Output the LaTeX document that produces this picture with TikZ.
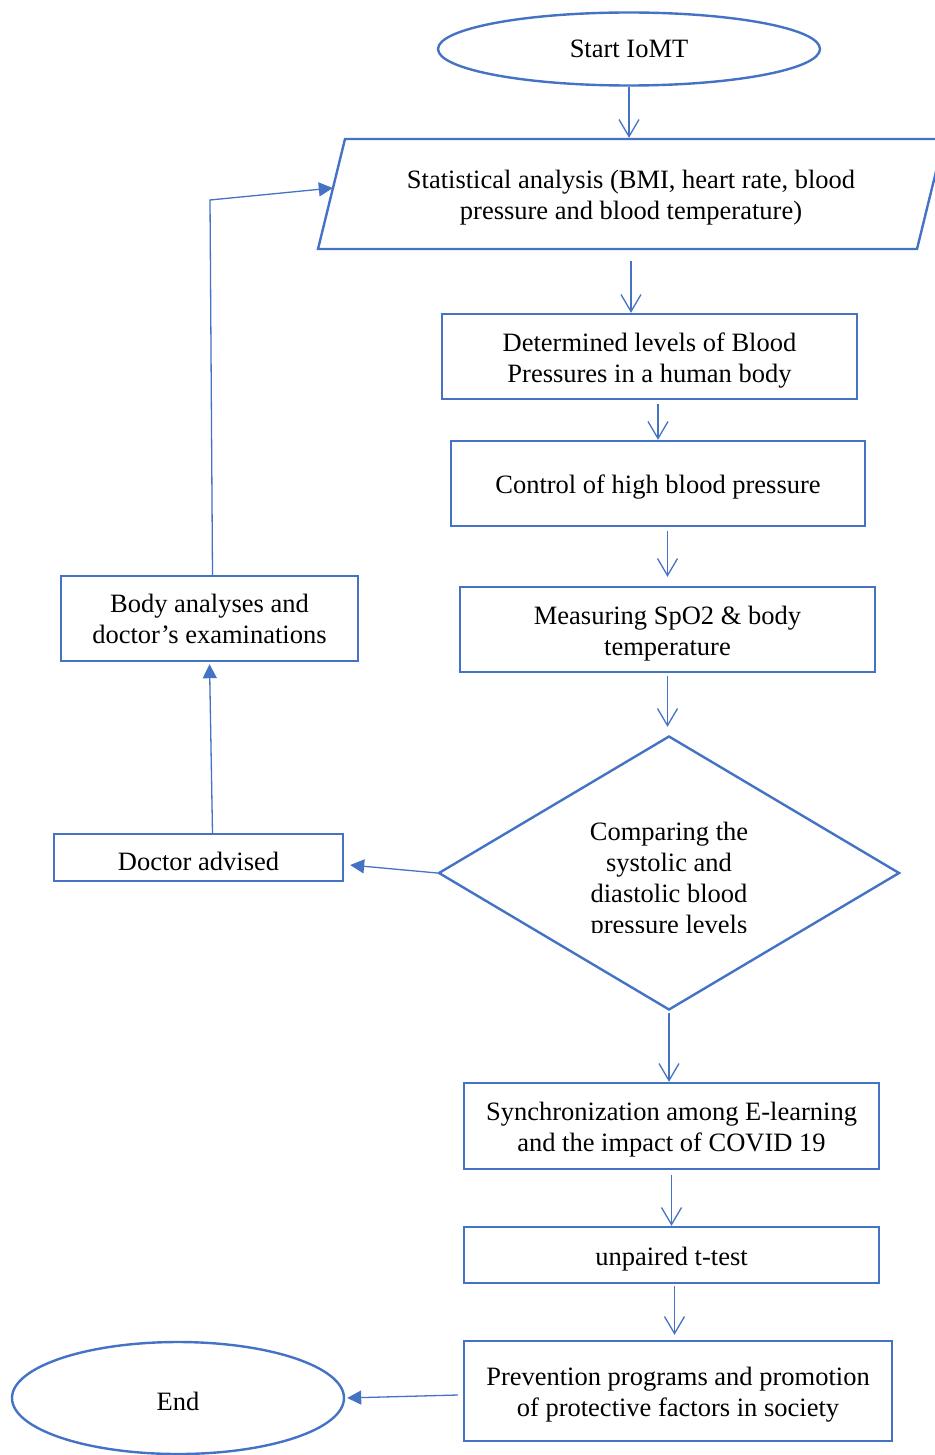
\documentclass[tikz,border=0pt]{standalone}
\usepackage{fontspec}
\setmainfont{Liberation Serif}
\usetikzlibrary{arrows.meta, shapes.geometric, calc}
\definecolor{wordblue}{RGB}{68,114,196}
\newcommand{\lowstrut}{\rule{0pt}{26pt}}

\tikzset{
  box/.style={draw=wordblue, line width=2.4pt, align=center, inner sep=0pt,
    minimum width=415pt, minimum height=85pt},
  vdown/.style={color=wordblue, line width=1.3pt,
    -{Straight Barb[length=17pt,width=20pt,line width=1.3pt]}},
  tri/.style={color=wordblue, line width=1.3pt, -{Triangle[length=14pt,width=14pt]}}
}

\begin{document}
\begin{tikzpicture}[x=1pt, y=-1pt, font=\fontsize{26.5}{31}\selectfont]
	\useasboundingbox (0,0) rectangle (934,1455);
	%
	\node[box, ellipse, minimum width=382pt, minimum height=73pt] (start) at (629,49) {Start IoMT};%
	\node[align=center, inner sep=0pt, minimum width=600pt, minimum height=110pt] (stat) at (631,194)
		{\lowstrut Statistical analysis (BMI, heart rate, blood\\pressure and blood temperature)};%
	\draw[wordblue, line width=2.4pt] ($(stat.center)+(-313,55)$) -- ($(stat.center)+(-286,-55)$)
		-- ($(stat.center)+(313,-55)$) -- ($(stat.center)+(286,55)$) -- cycle;%
	\node[box] (lev) at (649.5,356.5) {\lowstrut Determined levels of Blood\\Pressures in a human body};%
	\node[box, minimum width=414pt] (ctrl) at (658,483.5) {\lowstrut Control of high blood pressure};%
	\node[box] (meas) at (667.5,629.5) {\lowstrut Measuring SpO2 \& body\\temperature};%
	\node[box, diamond, minimum width=461pt, minimum height=274pt] (cmp) at (669,873) {};%
	\begin{scope}
		\clip (cmp.west |- cmp.north) rectangle (cmp.east |- 0,932);
		\node[align=center] (cmptext) at (669,881) {Comparing the\\systolic and\\diastolic blood\\pressure levels};%
	\end{scope}
	\node[box, minimum height=86pt] (sync) at (671.5,1126) {\lowstrut Synchronization among E-learning\\and the impact of COVID 19};%
	\node[box, minimum height=56pt] (ttest) at (671.5,1255) {\lowstrut unpaired t-test};%
	\node[box, minimum width=428pt, minimum height=100pt] (prev) at (678,1391) {\lowstrut Prevention programs and promotion\\of protective factors in society};%
	\node[box, ellipse, minimum width=332pt, minimum height=112pt] (end) at (178,1398) {\lowstrut End};%
	\node[box, minimum width=289pt, minimum height=47pt] (doc) at (198.5,857.5) {\lowstrut Doctor advised};%
	\node[box, minimum width=297pt] (body) at (209.5,618.5) {Body analyses and\\doctor’s examinations};%
	%
	\draw[vdown, shorten >=1pt] (start.south) -- (start.south |- stat.north);%
	\draw[vdown, shorten <=12pt] (stat.south) -- (stat.south |- lev.north);%
	\draw[vdown, shorten <=4pt] (ctrl.north |- lev.south) -- (ctrl.north);%
	\draw[vdown, shorten <=4pt, shorten >=9pt] (meas.north |- ctrl.south) -- (meas.north);%
	\draw[vdown, shorten <=3pt, shorten >=8pt] (meas.south) -- (meas.south |- cmp.north);%
	\draw[vdown, shorten <=2pt] (cmp.south) -- (cmp.south |- sync.north);%
	\draw[vdown, shorten <=5pt] (sync.south) -- (ttest.north);%
	\draw[vdown, shorten <=2pt, shorten >=5pt] ([xshift=3pt]ttest.south) -- ([xshift=3pt]ttest.south |- prev.north);%
	%
	\draw[tri, shorten >=6pt] (cmp.west) -- ([yshift=-7pt]doc.east);%
	\draw[tri, shorten >=2pt] ([xshift=14pt]doc.north) -- (body.south);%
	\coordinate (turn) at (210,200);
	\draw[tri] ([xshift=3pt]body.north) -- (turn) -- ([xshift=2pt,yshift=6pt]stat.west);%
	\draw[tri, shorten >=2pt] ([xshift=-5pt,yshift=-4pt]prev.west) -- (end.east);%
\end{tikzpicture}
\end{document}
